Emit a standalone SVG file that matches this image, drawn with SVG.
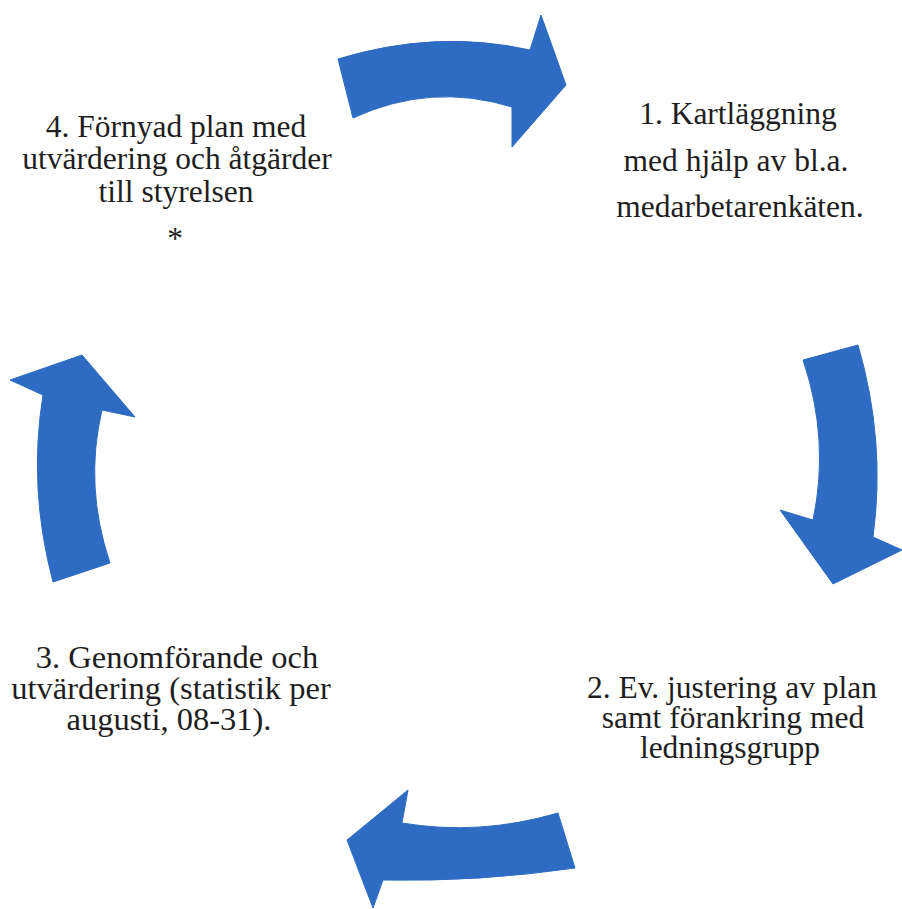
<svg xmlns="http://www.w3.org/2000/svg" width="902" height="909" viewBox="0 0 902 909">
<style>
.arrow{fill:#2d6cc2;stroke:#2d6cc2;stroke-width:1;stroke-linejoin:round}
.lbl{font-family:"Liberation Serif","Times New Roman",serif;font-size:31.5px;fill:#1e1e1e;text-anchor:middle}
</style>
<rect width="902" height="909" fill="#ffffff"/>
<g id="connectors">
<path id="arrow-top" class="arrow" d="M338,59 Q436,29 530,50 L541,15 L566,85 L512,147 L512,107 Q431,82 353,118 Z"/>
<path id="arrow-right" class="arrow" d="M803,360 L858,345 Q886,441 873,537 L902,550 L833,584 L780,510 L813,520 Q830,440 803,360 Z"/>
<path id="arrow-bottom" class="arrow" d="M558,813 Q480,836 402,823 L408,790 L347,840 L373,908 L383,880 Q479,882 575,868 Z"/>
<path id="arrow-left" class="arrow" d="M53,582 Q28,488 43,395 L10,380 L82,355 L135,417 L102,410 Q84,486 110,563 Z"/>
</g>
<g id="node1">
<text class="lbl" x="738" y="124">1. Kartläggning</text>
<text class="lbl" x="736" y="171">med hjälp av bl.a.</text>
<text class="lbl" x="740" y="217">medarbetarenkäten.</text>
</g>
<g id="node2">
<text class="lbl" x="732" y="698">2. Ev. justering av plan</text>
<text class="lbl" x="733" y="728">samt förankring med</text>
<text class="lbl" x="730" y="758">ledningsgrupp</text>
</g>
<g id="node3">
<text class="lbl" x="177" y="668" style="font-size:32.5px">3. Genomförande och</text>
<text class="lbl" x="171" y="699" style="font-size:32.5px">utvärdering (statistik per</text>
<text class="lbl" x="169" y="730" style="font-size:32.5px">augusti, 08-31).</text>
</g>
<g id="node4">
<text class="lbl" x="176" y="137">4. Förnyad plan med</text>
<text class="lbl" x="177" y="169">utvärdering och åtgärder</text>
<text class="lbl" x="176" y="202">till styrelsen</text>
<text class="lbl" x="175" y="249">*</text>
</g>
</svg>
